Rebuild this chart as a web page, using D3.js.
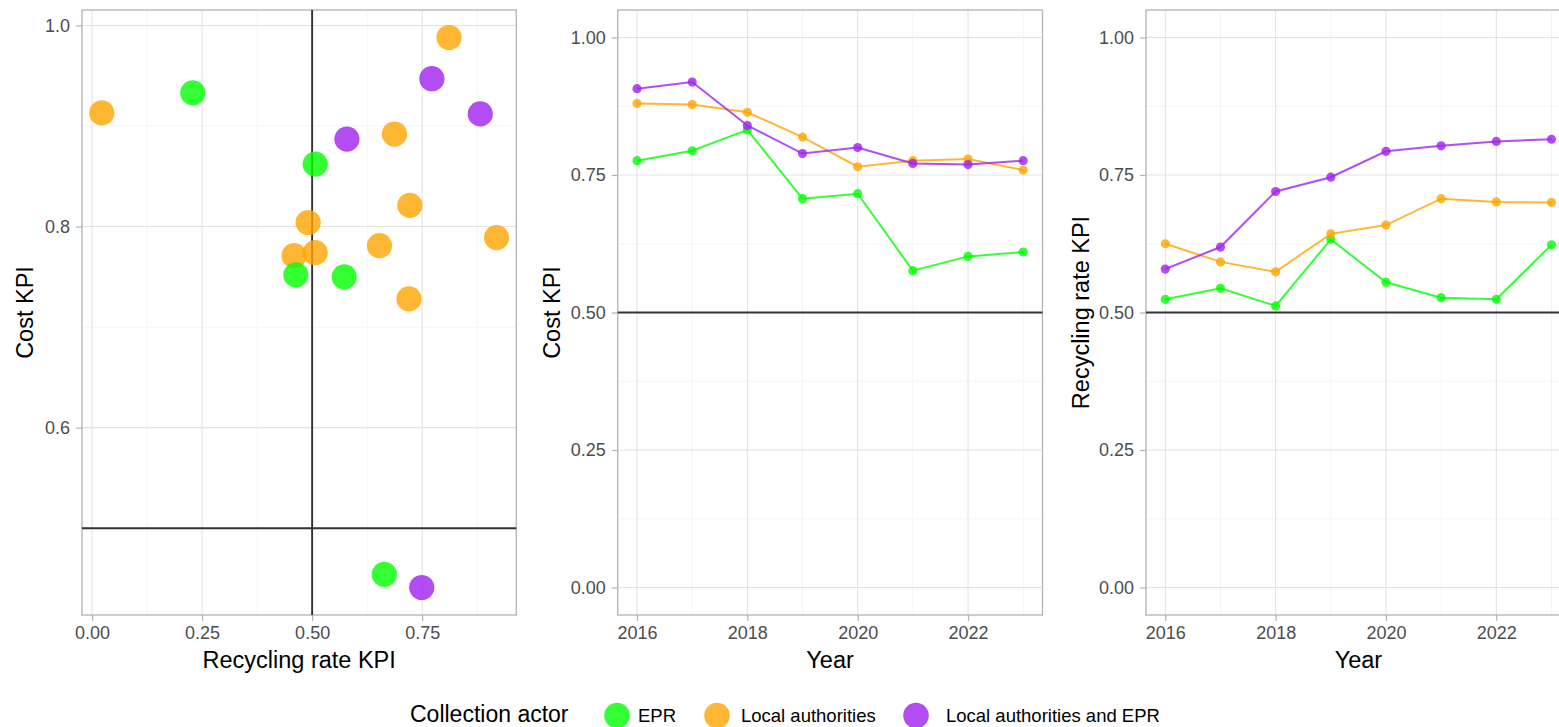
<!DOCTYPE html>
<html>
<head>
<meta charset="utf-8">
<script src="https://cdn.jsdelivr.net/npm/d3@7"></script>
<style>
  html, body { margin: 0; padding: 0; background: #ffffff; }
  svg { display: block; font-family: "Liberation Sans", Arial, sans-serif; }
</style>
</head>
<body>
<svg id="chart" width="1559" height="727"></svg>
<script>
// ---- Data -------------------------------------------------------------
const actors = ["EPR", "Local authorities", "Local authorities and EPR"];
const actorColors = ["#00FF00", "#FFA500", "#A020F0"];

// Scatter: one point per collection scheme (recycling rate KPI vs cost KPI)
const scatterRecyclingEPR  = [0.229, 0.507, 0.463, 0.573, 0.664];
const scatterCostEPR       = [0.933, 0.862, 0.752, 0.750, 0.454];
const scatterRecyclingLA   = [0.022, 0.811, 0.687, 0.722, 0.491, 0.919, 0.653, 0.459, 0.507, 0.720];
const scatterCostLA        = [0.913, 0.988, 0.892, 0.821, 0.804, 0.789, 0.781, 0.771, 0.774, 0.728];
const scatterRecyclingBoth = [0.772, 0.882, 0.579, 0.749];
const scatterCostBoth      = [0.947, 0.912, 0.887, 0.441];

// Yearly averages
const years = [2016, 2017, 2018, 2019, 2020, 2021, 2022, 2023];
const costEPR   = [0.776, 0.794, 0.832, 0.707, 0.716, 0.576, 0.602, 0.610];
const costLA    = [0.880, 0.878, 0.864, 0.819, 0.765, 0.776, 0.779, 0.759];
const costBoth  = [0.907, 0.919, 0.840, 0.789, 0.800, 0.771, 0.769, 0.776];
const recEPR    = [0.524, 0.544, 0.512, 0.633, 0.555, 0.527, 0.524, 0.623];
const recLA     = [0.625, 0.592, 0.574, 0.643, 0.659, 0.707, 0.701, 0.700];
const recBoth   = [0.579, 0.619, 0.720, 0.746, 0.793, 0.803, 0.811, 0.815];

// Tick values
const scatterXTicks = [0, 0.25, 0.5, 0.75];
const scatterXMinor = [0.125, 0.375, 0.625, 0.875];
const scatterYTicks = [0.6, 0.8, 1.0];
const scatterYMinor = [0.5, 0.7, 0.9];
const yearTicks = [2016, 2018, 2020, 2022];
const yearMinor = [2017, 2019, 2021, 2023];
const kpiTicks = [0, 0.25, 0.5, 0.75, 1.0];
const kpiMinor = [0.125, 0.375, 0.625, 0.875];

// ---- Styling ----------------------------------------------------------
const svg = d3.select("#chart");
const TITLE_SIZE = 23.5;
const TICK_SIZE = 18;
const TEXT_GREY = "#4D4D4D";
const BORDER = "#B3B3B3";
const GRID_MAJOR = "#E3E3E3";
const GRID_MINOR = "#F1F1F1";
const ALPHA = 0.8;

const panelTop = 10, panelBottom = 615;

function expand(extent, mult) {
  const pad = (extent[1] - extent[0]) * mult;
  return [extent[0] - pad, extent[1] + pad];
}

// Draws background grid, ticks and titles of one panel
function drawFrame(g, x, y, o) {
  const [x0, x1] = x.range();
  const [y1, y0] = y.range();
  const grid = g.append("g");
  grid.selectAll(".vmin").data(o.xMinor).join("line")
    .attr("x1", d => x(d)).attr("x2", d => x(d)).attr("y1", y0).attr("y2", y1)
    .attr("stroke", GRID_MINOR).attr("stroke-width", 0.8);
  grid.selectAll(".hmin").data(o.yMinor).join("line")
    .attr("y1", d => y(d)).attr("y2", d => y(d)).attr("x1", x0).attr("x2", x1)
    .attr("stroke", GRID_MINOR).attr("stroke-width", 0.8);
  grid.selectAll(".vmaj").data(o.xTicks).join("line")
    .attr("x1", d => x(d)).attr("x2", d => x(d)).attr("y1", y0).attr("y2", y1)
    .attr("stroke", GRID_MAJOR).attr("stroke-width", 1.1);
  grid.selectAll(".hmaj").data(o.yTicks).join("line")
    .attr("y1", d => y(d)).attr("y2", d => y(d)).attr("x1", x0).attr("x2", x1)
    .attr("stroke", GRID_MAJOR).attr("stroke-width", 1.1);

  // axes through d3's axis generator
  const xAxis = d3.axisBottom(x).tickValues(o.xTicks).tickFormat(o.xFormat)
    .tickSize(6).tickPadding(5);
  const yAxis = d3.axisLeft(y).tickValues(o.yTicks).tickFormat(o.yFormat)
    .tickSize(6).tickPadding(6);
  const gx = g.append("g").attr("transform", `translate(0,${y1})`).call(xAxis);
  const gy = g.append("g").attr("transform", `translate(${x0},0)`).call(yAxis);
  [gx, gy].forEach(a => {
    a.select(".domain").remove();
    a.selectAll(".tick line").attr("stroke", BORDER).attr("stroke-width", 1.2);
    a.selectAll(".tick text").attr("fill", TEXT_GREY)
      .style("font-size", TICK_SIZE + "px").style("font-family", "Liberation Sans, Arial, sans-serif");
  });
  gx.selectAll(".tick text").attr("dy", "0.74em");

  // axis titles
  g.append("text").attr("x", (x0 + x1) / 2).attr("y", 668)
    .attr("text-anchor", "middle").style("font-size", TITLE_SIZE + "px")
    .attr("fill", "#000").text(o.xTitle);
  g.append("text")
    .attr("transform", `translate(${x0 - o.yTitleOffset},${(y0 + y1) / 2}) rotate(-90)`)
    .attr("text-anchor", "middle").style("font-size", TITLE_SIZE + "px")
    .attr("fill", "#000").text(o.yTitle);
}

function drawBorder(g, x, y) {
  const [x0, x1] = x.range();
  const [y1, y0] = y.range();
  g.append("rect").attr("x", x0).attr("y", y0)
    .attr("width", x1 - x0).attr("height", y1 - y0)
    .attr("fill", "none").attr("stroke", BORDER).attr("stroke-width", 1.3);
}

// ---- Panel 1: scatter -------------------------------------------------
{
  const allX = scatterRecyclingEPR.concat(scatterRecyclingLA, scatterRecyclingBoth);
  const allY = scatterCostEPR.concat(scatterCostLA, scatterCostBoth);
  const x = d3.scaleLinear().domain(expand(d3.extent(allX), 0.05)).range([82, 516.3]);
  const y = d3.scaleLinear().domain(expand(d3.extent(allY), 0.05)).range([panelBottom, panelTop]);
  const g = svg.append("g");
  drawFrame(g, x, y, {
    xTicks: scatterXTicks, xMinor: scatterXMinor, yTicks: scatterYTicks, yMinor: scatterYMinor,
    xFormat: d3.format(".2f"), yFormat: d3.format(".1f"),
    xTitle: "Recycling rate KPI", yTitle: "Cost KPI", yTitleOffset: 49
  });
  drawBorder(g, x, y);
  // reference lines at 0.5
  g.append("line").attr("x1", x(0.5)).attr("x2", x(0.5)).attr("y1", panelTop).attr("y2", panelBottom)
    .attr("stroke", "#333333").attr("stroke-width", 1.9);
  g.append("line").attr("y1", y(0.5)).attr("y2", y(0.5)).attr("x1", 82).attr("x2", 516.3)
    .attr("stroke", "#333333").attr("stroke-width", 1.9);

  const groups = [
    { c: actorColors[1], xs: scatterRecyclingLA, ys: scatterCostLA },
    { c: actorColors[0], xs: scatterRecyclingEPR, ys: scatterCostEPR },
    { c: actorColors[2], xs: scatterRecyclingBoth, ys: scatterCostBoth }
  ];
  groups.forEach(grp => {
    g.append("g").selectAll("circle").data(d3.zip(grp.xs, grp.ys)).join("circle")
      .attr("cx", d => x(d[0])).attr("cy", d => y(d[1])).attr("r", 12.6)
      .attr("fill", grp.c).attr("fill-opacity", ALPHA);
  });
}

// ---- Panels 2 and 3: yearly lines --------------------------------------
function linePanel(left, yTitle, series) {
  const width = 424.8;
  const x = d3.scaleLinear().domain(expand([2016, 2023], 0.05)).range([left, left + width]);
  const y = d3.scaleLinear().domain(expand([0, 1], 0.05)).range([panelBottom, panelTop]);
  const g = svg.append("g");
  drawFrame(g, x, y, {
    xTicks: yearTicks, xMinor: yearMinor, yTicks: kpiTicks, yMinor: kpiMinor,
    xFormat: d3.format("d"), yFormat: d3.format(".2f"),
    xTitle: "Year", yTitle: yTitle, yTitleOffset: 57.5
  });
  drawBorder(g, x, y);
  g.append("line").attr("y1", y(0.5)).attr("y2", y(0.5)).attr("x1", left).attr("x2", left + width)
    .attr("stroke", "#333333").attr("stroke-width", 1.9);

  const line = d3.line().x(d => x(d[0])).y(d => y(d[1]));
  series.forEach((vals, i) => {
    const pts = d3.zip(years, vals);
    g.append("path").datum(pts).attr("d", line)
      .attr("fill", "none").attr("stroke", actorColors[i])
      .attr("stroke-opacity", ALPHA).attr("stroke-width", 2);
    g.append("g").selectAll("circle").data(pts).join("circle")
      .attr("cx", d => x(d[0])).attr("cy", d => y(d[1])).attr("r", 4.6)
      .attr("fill", actorColors[i]).attr("fill-opacity", ALPHA);
  });
}

linePanel(617.7, "Cost KPI", [costEPR, costLA, costBoth]);
linePanel(1146, "Recycling rate KPI", [recEPR, recLA, recBoth]);

// ---- Legend ------------------------------------------------------------
{
  const lg = svg.append("g");
  lg.append("text").attr("x", 410).attr("y", 721.5)
    .style("font-size", "23px").attr("fill", "#000").text("Collection actor");
  const keyX = [617, 717, 916];
  const labelX = [638, 741, 946];
  actors.forEach((a, i) => {
    lg.append("circle").attr("cx", keyX[i]).attr("cy", 715.5).attr("r", 12.8)
      .attr("fill", actorColors[i]).attr("fill-opacity", ALPHA);
    lg.append("text").attr("x", labelX[i]).attr("y", 721.5)
      .style("font-size", "18.5px").attr("fill", "#000").text(a);
  });
}
</script>
</body>
</html>
